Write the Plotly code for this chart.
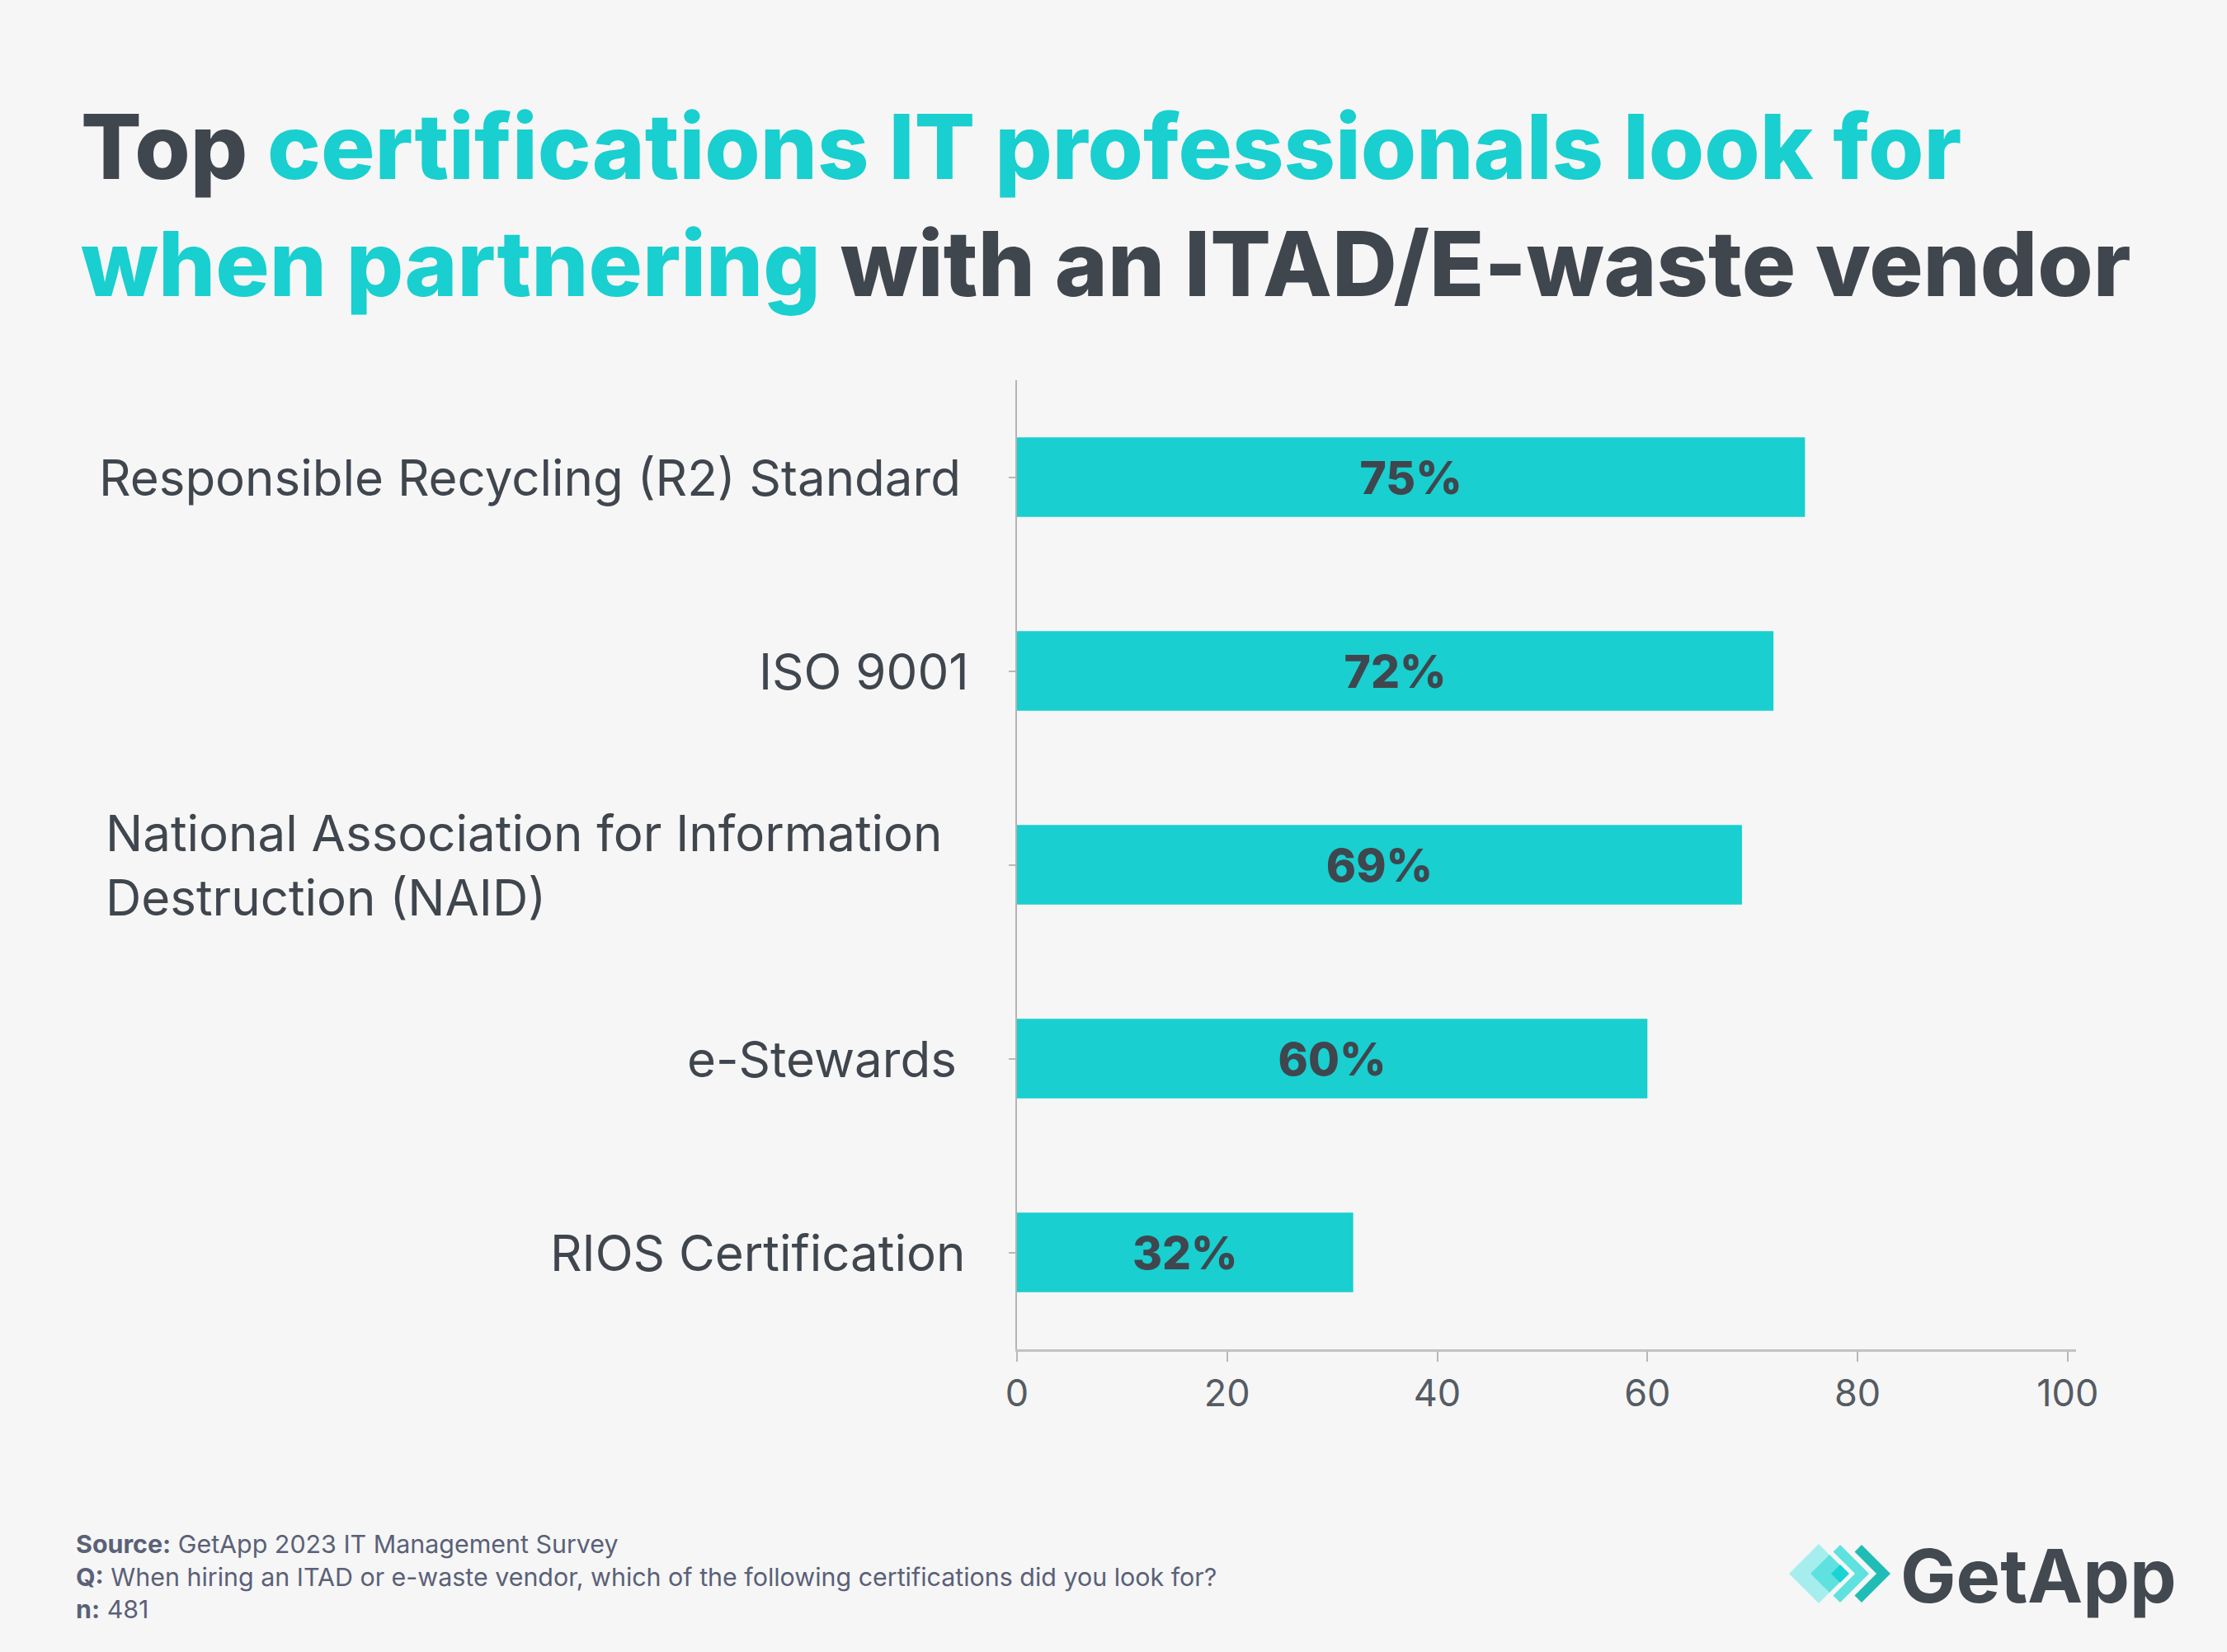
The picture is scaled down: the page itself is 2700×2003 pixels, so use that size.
import plotly.graph_objects as go

categories = ["Responsible Recycling (R2) Standard", "ISO 9001",
              "National Association for Information<br>Destruction (NAID)",
              "e-Stewards", "RIOS Certification"]
values = [75, 72, 69, 60, 32]
value_labels = ["75%", "72%", "69%", "60%", "32%"]
x_ticks = [0, 20, 40, 60, 80, 100]

W, H = 2700, 2003
L, R, T, B = 1233, 183, 461, 367
PW, PH = W - L - R, H - T - B
TEAL = "#19cfcf"
DARK = "#40464e"
FOOT = "#5a6178"
label_right_px = [1167, 1177, 1145, 1162, 1172]

def px(x):
    return (x - L) / PW

def py(y):
    return (H - B - y) / PH

fig = go.Figure()
fig.add_trace(go.Bar(
    x=values, y=list(range(len(categories))), orientation="h",
    marker=dict(color=TEAL, line=dict(width=0)), width=0.41,
    text=value_labels, textposition="inside", insidetextanchor="middle",
    textfont=dict(family="Inter", size=55, color=DARK, weight=800),
    hoverinfo="skip",
))

annotations = []
# y category labels
for i, c in enumerate(categories):
    annotations.append(dict(
        x=px(label_right_px[i]), y=i, xref="paper", yref="y", xanchor="right", yanchor="middle",
        text=c, showarrow=False, align="left",
        font=dict(family="Inter", size=60, color=DARK),
    ))

# title
title = ("Top <span style='color:%s'>certifications IT professionals look for</span><br>"
         "<span style='color:%s'>when partnering</span> with an ITAD/E-waste vendor") % (TEAL, TEAL)
annotations.append(dict(
    x=px(96), y=py(109), xref="paper", yref="paper", xanchor="left", yanchor="top",
    text=title, showarrow=False, align="left",
    font=dict(family="Inter", size=109, color=DARK, weight=800),
))

# footer
footer = ("<b>Source:</b> GetApp 2023 IT Management Survey<br>"
          "<b>Q:</b> When hiring an ITAD or e-waste vendor, which of the following certifications did you look for?<br>"
          "<b>n:</b> 481")
annotations.append(dict(
    x=px(90), y=py(1852), xref="paper", yref="paper", xanchor="left", yanchor="top",
    text=footer, showarrow=False, align="left",
    font=dict(family="Inter", size=30.4, color=FOOT),
))

# logo text
annotations.append(dict(
    x=px(2302), y=py(1910), xref="paper", yref="paper", xanchor="left", yanchor="middle",
    text="GetApp", showarrow=False,
    font=dict(family="Inter", size=90, color="#434950", weight=700),
))

def diamond(cx, cy, h):
    return f"M {px(cx-h)},{py(cy)} L {px(cx)},{py(cy-h)} L {px(cx+h)},{py(cy)} L {px(cx)},{py(cy+h)} Z"

def chevron(a, cy, h, d):
    pts = [(a, cy - h), (a + h, cy), (a, cy + h), (a - d / 2, cy + h - d / 2),
           (a + h - d, cy), (a - d / 2, cy - h + d / 2)]
    return "M " + " L ".join(f"{px(x)},{py(y)}" for x, y in pts) + " Z"

shapes = [
    dict(type="path", xref="paper", yref="paper", path=diamond(2205, 1908, 36),
         fillcolor="#a6eeee", line=dict(width=0)),
    dict(type="path", xref="paper", yref="paper", path=diamond(2218, 1908, 23),
         fillcolor="#5fe2df", line=dict(width=0)),
    dict(type="path", xref="paper", yref="paper", path=diamond(2231, 1908, 11),
         fillcolor="#18d4d4", line=dict(width=0)),
    dict(type="path", xref="paper", yref="paper", path=chevron(2231, 1908, 35, 17),
         fillcolor="#5fe2df", line=dict(width=0)),
    dict(type="path", xref="paper", yref="paper", path=chevron(2257, 1908, 35, 17),
         fillcolor="#20bdb7", line=dict(width=0)),
]

fig.update_layout(
    width=W, height=H,
    paper_bgcolor="#f6f6f6", plot_bgcolor="#f6f6f6",
    margin=dict(l=L, r=R, t=T, b=B, pad=0),
    showlegend=False,
    annotations=annotations, shapes=shapes,
    xaxis=dict(range=[0, 100.8], tickvals=x_ticks, ticktext=[str(v) for v in x_ticks],
               showgrid=False, zeroline=False, showline=True, linecolor="#c2c2c2", linewidth=3,
               ticks="outside", ticklen=12, tickcolor="#b8b8b8", tickwidth=2,
               tickfont=dict(family="Inter", size=45, color="#555b63"), fixedrange=True),
    yaxis=dict(range=[4.5, -0.5], tickvals=list(range(len(categories))), showticklabels=False,
               showgrid=False, zeroline=False, showline=True, linecolor="#b4b4b4", linewidth=2,
               ticks="outside", ticklen=8, tickcolor="#b8b8b8", tickwidth=2, fixedrange=True),
)

fig.write_html("out.html", config={"displayModeBar": False},
               post_script="document.body.style.margin='0';document.body.style.background='#f6f6f6';")
